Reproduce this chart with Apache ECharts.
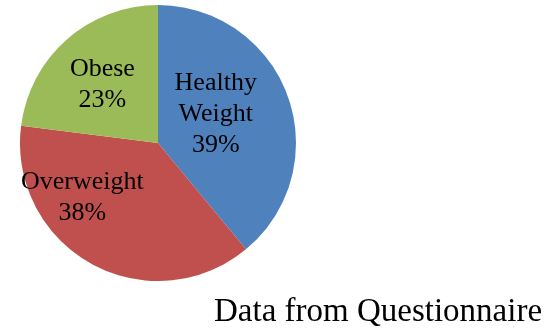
<!DOCTYPE html>
<html>
<head>
<meta charset="utf-8">
<script src="https://cdn.jsdelivr.net/npm/echarts@6/dist/echarts.min.js"></script>
<style>
  html, body { margin: 0; padding: 0; background: #fff; }
  #chart { width: 552px; height: 332px; }
</style>
</head>
<body>
<div id="chart"></div>
<script>
// Weight categories and their shares (%)
const categories = ['Healthy\nWeight', 'Overweight', 'Obese'];
const shares = [39, 38, 23];
const sliceColors = ['#4F81BD', '#C0504D', '#9BBB59'];
const sourceNote = 'Data from Questionnaire';

// Nudges for the inside labels, so each sits clear of the slice edges
const labelNudge = [[-10, -4], [-41, -8], [-8, -4]];

const chart = echarts.init(document.getElementById('chart'), null, { renderer: 'canvas' });

chart.setOption({
  animation: false,
  backgroundColor: '#ffffff',
  title: {
    text: sourceNote,
    left: 214,
    top: 296,
    padding: 0,
    textStyle: {
      fontFamily: 'Liberation Serif',
      fontWeight: 'normal',
      fontSize: 33,
      color: '#000'
    }
  },
  series: [{
    type: 'pie',
    center: [158, 143],
    radius: [0, 138],
    startAngle: 90,
    clockwise: true,
    avoidLabelOverlap: false,
    itemStyle: { borderWidth: 0 },
    label: {
      show: true,
      position: 'inside',
      formatter: p => p.name + '\n' + p.value + '%',
      fontFamily: 'Liberation Serif',
      fontSize: 26,
      lineHeight: 31,
      color: '#000'
    },
    labelLine: { show: false },
    emphasis: { disabled: true },
    labelLayout: params => ({
      dx: labelNudge[params.dataIndex][0],
      dy: labelNudge[params.dataIndex][1]
    }),
    data: categories.map((name, i) => ({
      name: name,
      value: shares[i],
      itemStyle: { color: sliceColors[i] }
    }))
  }]
});
</script>
</body>
</html>
